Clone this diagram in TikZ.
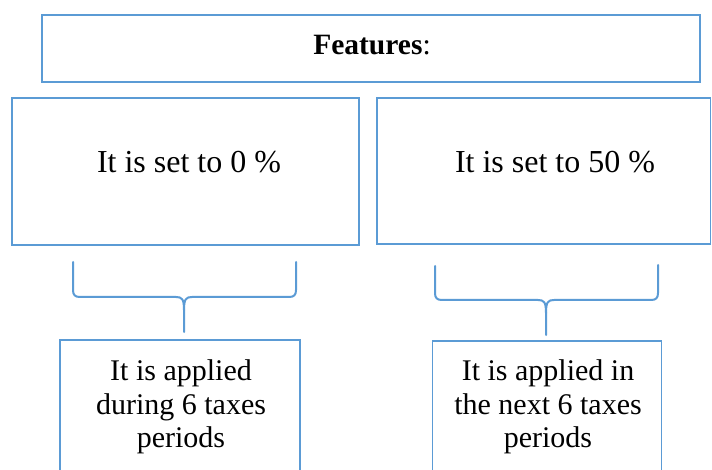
\documentclass[tikz,border=0pt]{standalone}
\usepackage{fontspec}
\setmainfont{Liberation Serif}
\definecolor{boxblue}{RGB}{91,155,213}
\tikzset{
  box/.style={draw=boxblue, line width=1.7pt, rectangle, inner sep=0pt, outer sep=0pt},
  bracepath/.style={draw=boxblue, line width=2pt, line cap=round, line join=round},
  midtext/.style={font=\fontsize{32}{36}\selectfont, anchor=base, inner sep=0pt},
  lowtext/.style={font=\fontsize{30}{33.5}\selectfont, align=center, anchor=base, inner sep=0pt},
  toptext/.style={font=\fontsize{29.5}{32}\selectfont, anchor=base, inner sep=0pt}
}
\begin{document}
\begin{tikzpicture}[x=1pt,y=-1pt]
\clip (0,0) rectangle (712,470);
\fill[white] (0,0) rectangle (712,470);
% boxes
\node[box, minimum width=658pt, minimum height=67pt] (topbox) at (371,48.5) {};
\node[box, minimum width=347pt, minimum height=147pt] (lbox) at (185.5,171.5) {};
\node[box, minimum width=333.5pt, minimum height=146pt] (rbox) at (543.75,171) {};
\node[box, minimum width=240pt, minimum height=150pt] (llbox) at (180,415) {};
\node[box, minimum width=229pt, minimum height=150pt] (rlbox) at (547,416) {};
% texts
\node[toptext] (ftxt) at (372,55) {\textbf{Features}:};
\node[midtext] (ltxt) at (189,173) {It is set to 0 \%};
\node[midtext] (rtxt) at (555,173) {It is set to 50 \%};
\node[lowtext] (lltxt) at (181,447.5) {It is applied\\during 6 taxes\\periods};
\node[lowtext] (rltxt) at (548,447.5) {It is applied in\\the next 6 taxes\\periods};
% braces
\coordinate (lbA) at (73,262);
\coordinate (lbB) at (296,262);
\coordinate (lbT) at (184,332);
\draw[bracepath] (lbA) -- (73,290) .. controls (73,295) and (75,297) .. (80,297)
  -- (176,297) .. controls (182,297) and (184,299) .. (184,310) -- (lbT);
\draw[bracepath] (lbB) -- (296,290) .. controls (296,295) and (294,297) .. (289,297)
  -- (192,297) .. controls (186,297) and (184,299) .. (184,310);
\coordinate (rbA) at (435,266);
\coordinate (rbB) at (658,265);
\coordinate (rbT) at (546,335);
\draw[bracepath] (rbA) -- (435,293) .. controls (435,298) and (437,300) .. (442,300)
  -- (538,300) .. controls (544,300) and (546,302) .. (546,313) -- (rbT);
\draw[bracepath] (rbB) -- (658,293) .. controls (658,298) and (656,300) .. (651,300)
  -- (554,300) .. controls (548,300) and (546,302) .. (546,313);
\end{tikzpicture}
\end{document}
